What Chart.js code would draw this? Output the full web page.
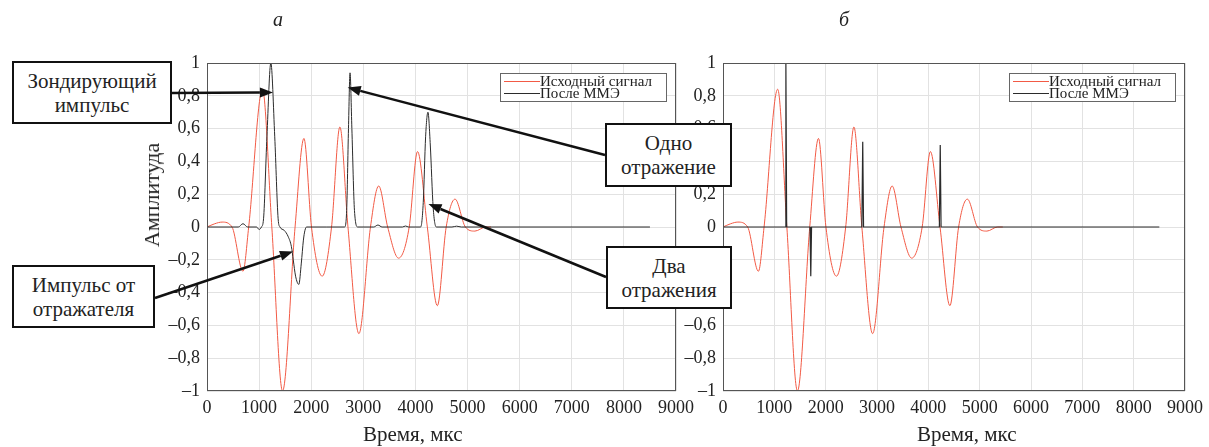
<!DOCTYPE html>
<html>
<head>
<meta charset="utf-8">
<script src="https://cdn.jsdelivr.net/npm/chart.js@4"></script>
<style>
    body { margin: 0; background: #fff; }
    #page { position: relative; width: 1209px; height: 447px; overflow: hidden; font-family: "Liberation Serif", "Times New Roman", Tinos, "DejaVu Serif", serif; color: #222; }
    #chart-a { position: absolute; left: 0; top: 0; }
    #chart-b { position: absolute; left: 680px; top: 0; }
    .note {
        position: absolute; background: #fff; border: 2px solid #111; box-sizing: border-box;
        font-size: 21px; line-height: 24px; text-align: center; display: flex;
        align-items: center; justify-content: center; z-index: 5;
    }
    .lbl { position: absolute; font-size: 20px; white-space: nowrap; z-index: 3; }
    .panel-letter { position: absolute; font-size: 20px; font-style: italic; z-index: 3; }
</style>
</head>
<body>
<div id="page">
    <canvas id="chart-a" width="700" height="447"></canvas>
    <canvas id="chart-b" width="529" height="447"></canvas>

    <div class="panel-letter" style="left:273px; top:8px;">а</div>
    <div class="panel-letter" style="left:839px; top:8px;">б</div>

    <div class="lbl" style="left:363px; top:422px; font-size:21px;">Время, мкс</div>
    <div class="lbl" style="left:917px; top:422px; font-size:21px;">Время, мкс</div>
    <div class="lbl" style="left:152px; top:195px; font-size:22px; transform: translate(-50%, -50%) rotate(-90deg);">Амплитуда</div>

    <div class="note" style="left:12px; top:61px; width:160px; height:63px;">Зондирующий<br>импульс</div>
    <div class="note" style="left:12px; top:265px; width:143px; height:63px;">Импульс от<br>отражателя</div>
    <div class="note" style="left:605px; top:123px; width:127px; height:64px;">Одно<br>отражение</div>
    <div class="note" style="left:606px; top:246px; width:126px; height:63px;">Два<br>отражения</div>
</div>

<script>
// --- data (time in мкс, amplitude) ---
const sourceT = [0, 150, 290, 480, 690, 800, 1065, 1244, 1450, 1690, 1860, 2005, 2210, 2390, 2550, 2705, 2915, 3137, 3295, 3467, 3676, 3880, 4040, 4228, 4420, 4590, 4760, 4958, 5140, 5350, 5450];
const sourceV = [0, 0.02, 0.03, 0, -0.27, 0, 0.84, 0, -1.0, 0, 0.54, 0, -0.30, 0, 0.61, 0, -0.65, 0, 0.25, 0, -0.19, 0, 0.46, 0, -0.48, 0, 0.17, 0, -0.025, 0, 0];

// panel а: after ММЭ (smooth)
const mmeAT = [0, 600, 690, 780, 950, 1000, 1045, 1085, 1150, 1225, 1300, 1365, 1400, 1480, 1560, 1620, 1655, 1700, 1762, 1810, 1850, 1880, 1910, 2300, 2640, 2680, 2715, 2745, 2780, 2830, 2893, 3200, 3280, 3360, 3750, 3810, 3870, 4100, 4150, 4195, 4240, 4285, 4340, 4400, 4700, 4790, 4880, 8500];
const mmeAV = [0, 0, 0.02, 0, 0, -0.015, 0, 0.05, 0.55, 1.0, 0.55, 0.05, 0, -0.02, -0.06, -0.12, -0.2, -0.3, -0.35, -0.22, -0.08, -0.02, 0, 0, 0, 0.1, 0.6, 0.94, 0.6, 0.1, 0, 0, 0.012, 0, 0, 0.006, 0, 0, 0.15, 0.55, 0.70, 0.5, 0.12, 0, 0, 0.005, 0, 0];

// panel б: after ММЭ (spikes)
const mmeBT = [0, 1210, 1225, 1240, 1695, 1710, 1725, 2705, 2722, 2738, 4215, 4232, 4248, 8500];
const mmeBV = [0, 0, 1.0, 0, 0, -0.3, 0, 0, 0.52, 0, 0, 0.5, 0, 0];

const seriesNames = ['Исходный сигнал', 'После ММЭ'];
const xTicks = [0, 1000, 2000, 3000, 4000, 5000, 6000, 7000, 8000, 9000];
const yTicks = [-1, -0.8, -0.6, -0.4, -0.2, 0, 0.2, 0.4, 0.6, 0.8, 1];

// arrows of panel а: tail in page px, tip in data coords
const arrowTails = [[172, 93], [605, 155], [606, 277], [155, 298]];
const arrowTips = [[1265, 0.82], [2700, 0.85], [4250, 0.14], [1650, -0.15]];

const RED = '#f25a45';
const DARK = '#2b2b2b';
const SERIF = '"Liberation Serif", "Times New Roman", Tinos, "DejaVu Serif", serif';

const pts = (t, v) => t.map((x, i) => ({ x: x, y: v[i] }));

function fmtY(v) {
    const r = Math.round(v * 10) / 10;
    if (r === 0) return '0';
    let s = Math.abs(r).toString().replace('.', ',');
    return (r < 0 ? '–' : '') + s;
}

// box, inner legend
const framePlugin = {
    id: 'frame',
    afterDatasetsDraw(chart) {
        const { ctx, chartArea: a } = chart;
        ctx.save();
        ctx.strokeStyle = '#555';
        ctx.lineWidth = 1;
        ctx.strokeRect(a.left + 0.5, a.top + 0.5, a.right - a.left - 1, a.bottom - a.top - 1);

        // legend
        const w = 166, h = 28;
        const lx = a.right - w - 10, ly = a.top + 10;
        ctx.fillStyle = '#fff';
        ctx.fillRect(lx, ly, w, h);
        ctx.strokeStyle = '#666';
        ctx.strokeRect(lx + 0.5, ly + 0.5, w, h);
        ctx.font = '15px ' + SERIF;
        ctx.textBaseline = 'middle';
        chart.data.datasets.forEach((ds, i) => {
            const yy = ly + 8 + i * 12;
            ctx.strokeStyle = ds.borderColor;
            ctx.beginPath();
            ctx.moveTo(lx + 4, yy + 0.5);
            ctx.lineTo(lx + 40, yy + 0.5);
            ctx.stroke();
            ctx.fillStyle = '#222';
            ctx.fillText(ds.label, lx + 40, yy + 1);
        });
        ctx.restore();
    }
};

const arrowPlugin = {
    id: 'arrows',
    afterDraw(chart) {
        if (!chart.options.plugins.arrows || !chart.options.plugins.arrows.on) return;
        const { ctx, scales } = chart;
        const cvs = chart.canvas.getBoundingClientRect();
        const page = document.getElementById('page').getBoundingClientRect();
        const offX = cvs.left - page.left;
        ctx.save();
        ctx.strokeStyle = '#111';
        ctx.fillStyle = '#111';
        ctx.lineWidth = 2.5;
        arrowTips.forEach((tip, i) => {
            const x0 = arrowTails[i][0] - offX, y0 = arrowTails[i][1];
            const x1 = scales.x.getPixelForValue(tip[0]);
            const y1 = scales.y.getPixelForValue(tip[1]);
            const ang = Math.atan2(y1 - y0, x1 - x0);
            const L = 13, W = 5;
            const bx = x1 - L * Math.cos(ang), by = y1 - L * Math.sin(ang);
            ctx.beginPath();
            ctx.moveTo(x0, y0);
            ctx.lineTo(bx, by);
            ctx.stroke();
            ctx.beginPath();
            ctx.moveTo(x1, y1);
            ctx.lineTo(bx + W * Math.sin(ang), by - W * Math.cos(ang));
            ctx.lineTo(bx - W * Math.sin(ang), by + W * Math.cos(ang));
            ctx.closePath();
            ctx.fill();
        });
        ctx.restore();
    }
};

function makeOptions(pad, yWidth, withArrows) {
    const tickFont = { family: SERIF, size: 18 };
    return {
        responsive: false,
        animation: false,
        layout: { padding: pad, autoPadding: false },
        plugins: {
            legend: { display: false },
            tooltip: { enabled: false },
            arrows: { on: withArrows }
        },
        elements: { point: { radius: 0 } },
        scales: {
            x: {
                type: 'linear', min: 0, max: 9000,
                afterBuildTicks: s => { s.ticks = xTicks.map(v => ({ value: v })); },
                afterFit: s => { s.height = 56; },
                grid: { color: '#e2e2e2', drawTicks: false },
                border: { display: false },
                ticks: { color: '#222', font: tickFont, padding: 6, maxRotation: 0, autoSkip: false, callback: v => String(v) }
            },
            y: {
                type: 'linear', min: -1, max: 1,
                afterBuildTicks: s => { s.ticks = yTicks.map(v => ({ value: v })); },
                afterFit: s => { s.width = yWidth; },
                grid: { color: '#e2e2e2', drawTicks: false },
                border: { display: false },
                ticks: { color: '#222', font: tickFont, padding: 7, autoSkip: false, callback: v => fmtY(v) }
            }
        }
    };
}

new Chart(document.getElementById('chart-a'), {
    type: 'line',
    data: {
        datasets: [
            { label: seriesNames[0], data: pts(sourceT, sourceV), borderColor: RED, borderWidth: 1, cubicInterpolationMode: 'monotone', order: 1 },
            { label: seriesNames[1], data: pts(mmeAT, mmeAV), borderColor: DARK, borderWidth: 1, cubicInterpolationMode: 'monotone', order: 0 }
        ]
    },
    options: makeOptions({ left: 140, right: 23, top: 63, bottom: 0 }, 67, true),
    plugins: [framePlugin, arrowPlugin]
});

new Chart(document.getElementById('chart-b'), {
    type: 'line',
    data: {
        datasets: [
            { label: seriesNames[0], data: pts(sourceT, sourceV), borderColor: RED, borderWidth: 1, cubicInterpolationMode: 'monotone', order: 1 },
            { label: seriesNames[1], data: pts(mmeBT, mmeBV), borderColor: DARK, borderWidth: 1.2, tension: 0, order: 0 }
        ]
    },
    options: makeOptions({ left: 0, right: 16, top: 63, bottom: 0 }, 43, false),
    plugins: [framePlugin]
});
</script>
</body>
</html>
